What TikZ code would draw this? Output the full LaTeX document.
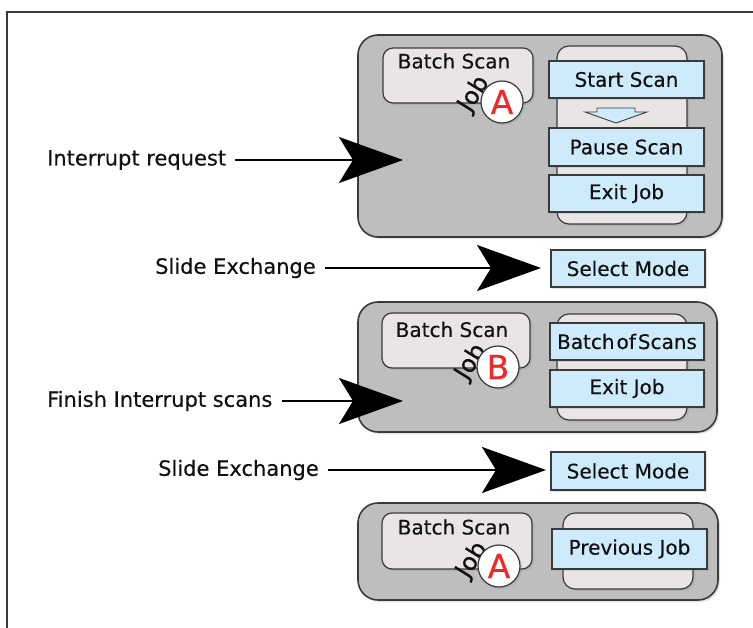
\documentclass[tikz,border=0pt]{standalone}
\usepackage{fontspec}
\setmainfont{DejaVu Sans}[FakeBold=0.35]
\usetikzlibrary{arrows.meta,shadows}
\definecolor{panelgray}{HTML}{BEBEBE}
\definecolor{boxlight}{HTML}{E9E5E5}
\definecolor{bluebox}{HTML}{CDEBFA}
\definecolor{edge}{HTML}{3A3A3A}
\definecolor{letterred}{HTML}{F02828}
\definecolor{txt}{HTML}{111111}
\begin{document}
\begin{tikzpicture}[x=1bp,y=-1bp,
  softshadow/.style={drop shadow={opacity=0.22,shadow xshift=2bp,shadow yshift=-2bp}},
  panel/.style={draw=edge,line width=1.6bp,fill=panelgray,rounded corners=20bp,softshadow,inner sep=0pt},
  lightbox/.style={draw=edge,line width=1.2bp,fill=boxlight,rounded corners=10bp,softshadow,inner sep=0pt},
  bluebtn/.style={draw=edge,line width=1.2bp,fill=bluebox,softshadow,inner sep=0pt,text=txt,
    font=\fontsize{20bp}{24bp}\selectfont,minimum width=155bp,minimum height=37bp},
  boxtext/.style={text=txt,font=\fontsize{20bp}{24bp}\selectfont,inner sep=0pt},
  sidelabel/.style={text=txt,font=\fontsize{21bp}{25bp}\selectfont,inner sep=0pt,anchor=west},
  badge/.style={circle,draw=edge,line width=1.2bp,fill=white,minimum size=42bp,inner sep=0pt,
    text=letterred,font=\fontsize{33bp}{34bp}\selectfont,softshadow},
  joblabel/.style={text=txt,font=\fontsize{24bp}{26bp}\selectfont,inner sep=0pt,rotate=58},
  bigarrow/.style={draw=black,line width=2.2bp,-{Stealth[length=64bp,width=46bp,inset=14bp]},shorten <=9bp}
]
\useasboundingbox (0,0) rectangle (753,628);
% frame
\draw[edge,line width=2bp] (7,628) -- (7,12) -- (753,12);

% ---------- top panel ----------
\node[panel,minimum width=364bp,minimum height=202bp] (p1) at (540,136) {};
\node[lightbox,minimum width=150bp,minimum height=55bp] (bs1) at (458,75.5) {};
\node[boxtext] (bs1t) at (454,61) {Batch Scan};
\node[lightbox,minimum width=130bp,minimum height=178bp,rounded corners=12bp] (r1) at (622,135) {};
\node[bluebtn] (start) at (626.5,79.5) {Start Scan};
\filldraw[fill=bluebox,draw=edge,line width=0.9bp] (597,108) -- (635,108) -- (635,112) -- (647,112) -- (616,123) -- (585,112) -- (597,112) -- cycle;
\node[bluebtn,minimum height=38bp] (pause) at (626.5,147) {Pause Scan};
\node[bluebtn] (exit1) at (626.5,193.5) {Exit Job};
\node[joblabel] (job1) at (474,94) {Job};
\node[badge] (a1) at (502,102) {A};

% interrupt request
\node[sidelabel] (l1) at (47,160) {Interrupt request};
\coordinate (t1) at (403,160);
\draw[bigarrow] (l1.east) -- (t1);

% slide exchange 1
\node[sidelabel] (l2) at (155,268) {Slide Exchange};
\coordinate (t2) at (541,268);
\draw[bigarrow] (l2.east) -- (t2);
\node[bluebtn,minimum width=154bp] (sel1) at (628,268.5) {Select Mode};

% ---------- middle panel ----------
\node[panel,minimum width=359bp,minimum height=130bp] (p2) at (537.5,367) {};
\node[lightbox,minimum width=148bp,minimum height=55bp] (bs2) at (456,340.5) {};
\node[boxtext] (bs2t) at (452,329.5) {Batch Scan};
\node[lightbox,minimum width=130bp,minimum height=106bp,rounded corners=12bp] (r2) at (622,367) {};
\node[bluebtn,minimum width=154bp] (batch) at (627,341.5) {Batch\hspace{0.1em}of\hspace{0.1em}Scans};
\node[bluebtn,minimum width=154bp] (exit2) at (627,388.5) {Exit Job};
\node[joblabel] (job2) at (471,362) {Job};
\node[badge] (b2) at (498,367) {B};

% finish interrupt scans
\node[sidelabel] (l3) at (47,401) {Finish Interrupt scans};
\coordinate (t3) at (403,401);
\draw[bigarrow] (l3.east) -- (t3);

% slide exchange 2
\node[sidelabel] (l4) at (158,470) {Slide Exchange};
\coordinate (t4) at (546,470);
\draw[bigarrow] (l4.east) -- (t4);
\node[bluebtn,minimum width=154bp,minimum height=38bp] (sel2) at (628,471) {Select Mode};

% ---------- bottom panel ----------
\node[panel,minimum width=360bp,minimum height=97bp] (p3) at (538,551.5) {};
\node[lightbox,minimum width=150bp,minimum height=56bp] (bs3) at (457,541) {};
\node[boxtext] (bs3t) at (454,527) {Batch Scan};
\node[lightbox,minimum width=130bp,minimum height=76bp,rounded corners=12bp] (r3) at (628,551) {};
\node[bluebtn,minimum height=40bp] (prev) at (629.5,549) {Previous Job};
\node[joblabel] (job3) at (472,560) {Job};
\node[badge] (a3) at (499,566) {A};
\end{tikzpicture}
\end{document}
